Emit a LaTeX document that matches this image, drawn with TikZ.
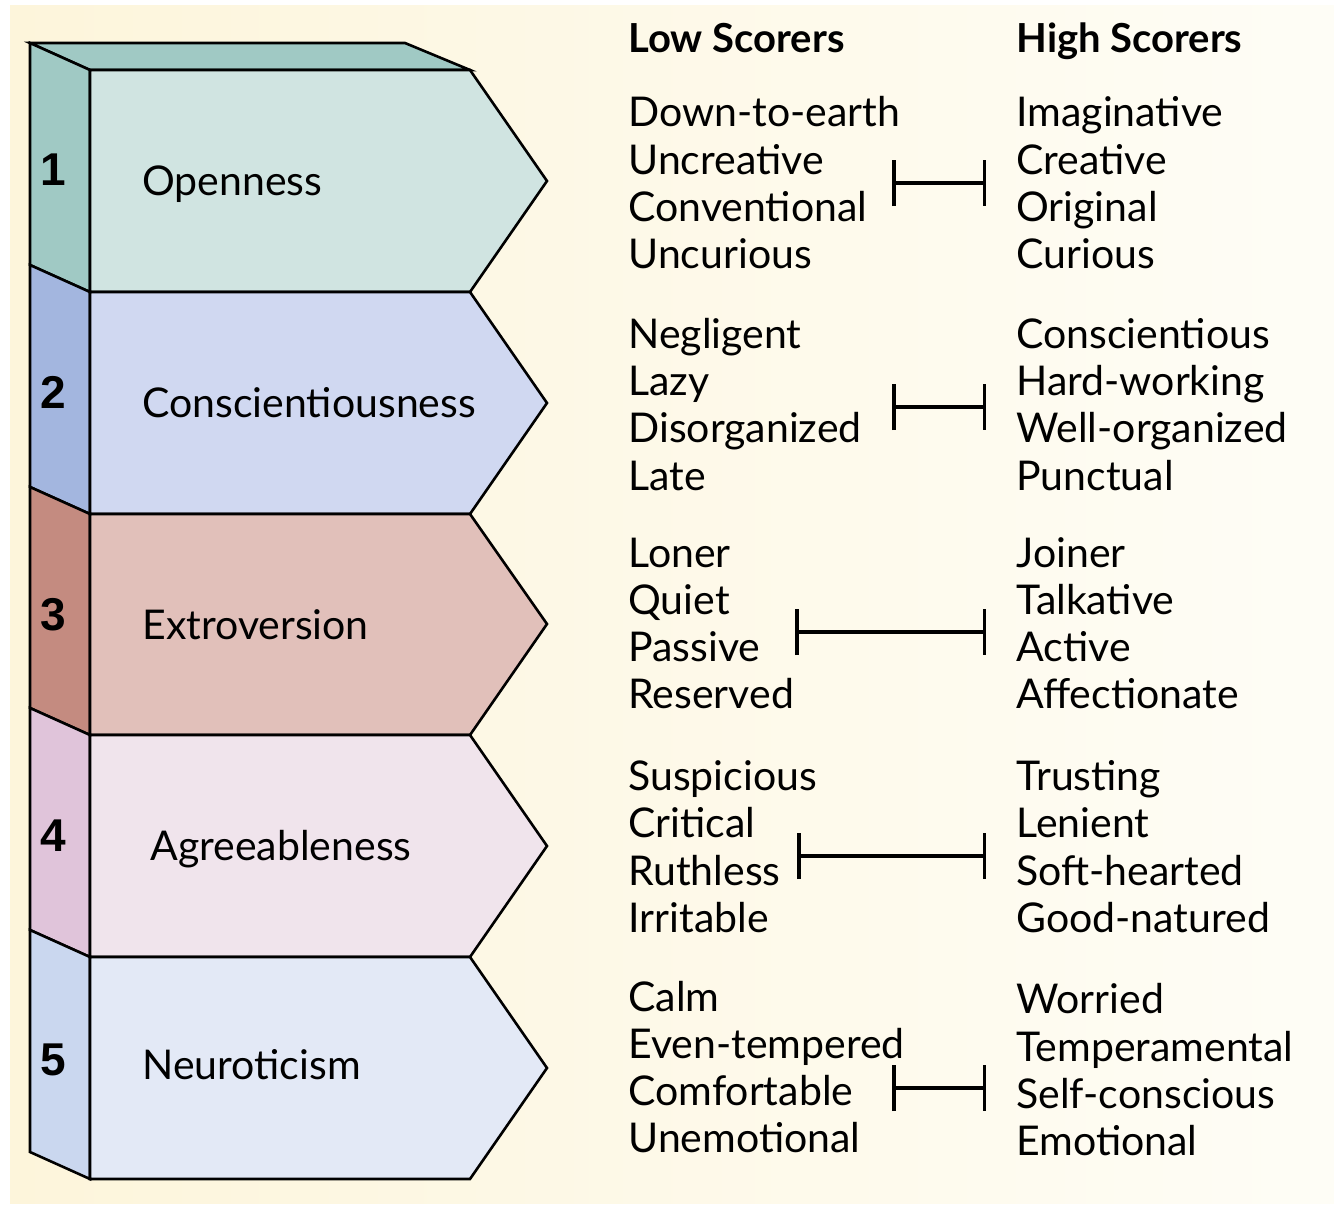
\documentclass[tikz,border=0pt]{standalone}
\usepackage{fontspec}
\setmainfont{Lato}
\newfontfamily\numfont{Liberation Sans}
\usepackage{xcolor}
\usetikzlibrary{arrows.meta}

\definecolor{bgleft}{HTML}{FDF5DB}
\definecolor{bgright}{HTML}{FEFDF6}
\definecolor{sideA}{HTML}{A0C9C4}
\definecolor{frontA}{HTML}{D0E4E1}
\definecolor{sideB}{HTML}{A3B6DF}
\definecolor{frontB}{HTML}{D0D8F1}
\definecolor{sideC}{HTML}{C48B80}
\definecolor{frontC}{HTML}{E1C0BA}
\definecolor{sideD}{HTML}{E0C4DA}
\definecolor{frontD}{HTML}{F0E4EC}
\definecolor{sideE}{HTML}{CAD7EF}
\definecolor{frontE}{HTML}{E3E9F6}

\begin{document}
\begin{tikzpicture}[
    x=0.5pt, y=-0.5pt,
    face/.style={draw=black, line width=1.3pt, line join=miter},
    numlbl/.style={font=\numfont\bfseries\fontsize{23}{26}\selectfont, inner sep=0pt},
    traitlbl/.style={font=\fontsize{20.5}{24}\selectfont, anchor=base west, inner sep=0pt},
    wordlbl/.style={font=\fontsize{20.5}{24}\selectfont, anchor=base west, inner sep=0pt},
    headlbl/.style={font=\bfseries\fontsize{20}{24}\selectfont, anchor=base west, inner sep=0pt},
    scorebar/.style={{Bar[width=23pt]}-{Bar[width=23pt]}, line width=1.75pt},
]
\useasboundingbox (0,0) rectangle (1334,1210);

% Background
\fill[left color=bgleft, right color=bgright] (10,5) rectangle (1334,1203);

% Top face
\filldraw[face, fill=sideA] (30,43) -- (405,43) -- (470,70) -- (90,70) -- cycle;

% Side faces
\filldraw[face, fill=sideA] (30,43) -- (90,70) -- (90,292) -- (30,265) -- cycle;
\filldraw[face, fill=sideB] (30,265) -- (90,292) -- (90,514) -- (30,487) -- cycle;
\filldraw[face, fill=sideC] (30,487) -- (90,514) -- (90,735) -- (30,708) -- cycle;
\filldraw[face, fill=sideD] (30,708) -- (90,735) -- (90,957) -- (30,930) -- cycle;
\filldraw[face, fill=sideE] (30,930) -- (90,957) -- (90,1179) -- (30,1152) -- cycle;

% Front faces (arrows)
\filldraw[face, fill=frontA] (90,70) -- (470,70) -- (547,181) -- (470,292) -- (90,292) -- cycle;
\filldraw[face, fill=frontB] (90,292) -- (470,292) -- (547,403) -- (470,514) -- (90,514) -- cycle;
\filldraw[face, fill=frontC] (90,514) -- (470,514) -- (547,624) -- (470,735) -- (90,735) -- cycle;
\filldraw[face, fill=frontD] (90,735) -- (470,735) -- (547,846) -- (470,957) -- (90,957) -- cycle;
\filldraw[face, fill=frontE] (90,957) -- (470,957) -- (547,1068) -- (470,1179) -- (90,1179) -- cycle;

% Numbers
\node[numlbl] (n1) at (53,170) {1};
\node[numlbl] (n2) at (53,392) {2};
\node[numlbl] (n3) at (53,615) {3};
\node[numlbl] (n4) at (53,836) {4};
\node[numlbl] (n5) at (53,1060) {5};

% Trait names
\node[traitlbl] (open) at (142,195) {Openness};
\node[traitlbl] (consc) at (142,417) {Conscientiousness};
\node[traitlbl] (extro) at (142,639) {Extroversion};
\node[traitlbl] (agree) at (150,860) {Agreeableness};
\node[traitlbl] (neuro) at (142,1079) {Neuroticism};

% Column heads
\node[headlbl] (lowhead) at (628,52) {Low Scorers};
\node[headlbl] (highhead) at (1016,52) {High Scorers};

% Openness
\node[wordlbl] (low1a) at (628,126) {Down-to-earth};
\node[wordlbl] (low1b) at (628,174) {Uncreative};
\node[wordlbl] (low1c) at (628,221) {Conventional};
\node[wordlbl] (low1d) at (628,268) {Uncurious};
\node[wordlbl] (high1a) at (1016,126) {Imaginative};
\node[wordlbl] (high1b) at (1016,174) {Creative};
\node[wordlbl] (high1c) at (1016,221) {Original};
\node[wordlbl] (high1d) at (1016,268) {Curious};

% Conscientiousness
\node[wordlbl] (low2a) at (628,348) {Negligent};
\node[wordlbl] (low2b) at (628,395) {Lazy};
\node[wordlbl] (low2c) at (628,442) {Disorganized};
\node[wordlbl] (low2d) at (628,490) {Late};
\node[wordlbl] (high2a) at (1016,348) {Conscientious};
\node[wordlbl] (high2b) at (1016,395) {Hard-working};
\node[wordlbl] (high2c) at (1016,442) {Well-organized};
\node[wordlbl] (high2d) at (1016,490) {Punctual};

% Extroversion
\node[wordlbl] (low3a) at (628,567) {Loner};
\node[wordlbl] (low3b) at (628,614) {Quiet};
\node[wordlbl] (low3c) at (628,661) {Passive};
\node[wordlbl] (low3d) at (628,708) {Reserved};
\node[wordlbl] (high3a) at (1016,567) {Joiner};
\node[wordlbl] (high3b) at (1016,614) {Talkative};
\node[wordlbl] (high3c) at (1016,661) {Active};
\node[wordlbl] (high3d) at (1016,708) {Affectionate};

% Agreeableness
\node[wordlbl] (low4a) at (628,790) {Suspicious};
\node[wordlbl] (low4b) at (628,837) {Critical};
\node[wordlbl] (low4c) at (628,885) {Ruthless};
\node[wordlbl] (low4d) at (628,932) {Irritable};
\node[wordlbl] (high4a) at (1016,790) {Trusting};
\node[wordlbl] (high4b) at (1016,837) {Lenient};
\node[wordlbl] (high4c) at (1016,885) {Soft-hearted};
\node[wordlbl] (high4d) at (1016,932) {Good-natured};

% Neuroticism
\node[wordlbl] (low5a) at (628,1011) {Calm};
\node[wordlbl] (low5b) at (628,1058) {Even-tempered};
\node[wordlbl] (low5c) at (628,1105) {Comfortable};
\node[wordlbl] (low5d) at (628,1152) {Unemotional};
\node[wordlbl] (high5a) at (1016,1013) {Worried};
\node[wordlbl] (high5b) at (1016,1061) {Temperamental};
\node[wordlbl] (high5c) at (1016,1108) {Self-conscious};
\node[wordlbl] (high5d) at (1016,1155) {Emotional};

% Range bars
\coordinate (lo1) at (892,183);  \coordinate (hi1) at (986,183);
\coordinate (lo2) at (892,407);  \coordinate (hi2) at (986,407);
\coordinate (lo3) at (795,632);  \coordinate (hi3) at (986,632);
\coordinate (lo4) at (797,856);  \coordinate (hi4) at (986,856);
\coordinate (lo5) at (892,1088); \coordinate (hi5) at (986,1088);
\draw[scorebar] (lo1) -- (hi1);
\draw[scorebar] (lo2) -- (hi2);
\draw[scorebar] (lo3) -- (hi3);
\draw[scorebar] (lo4) -- (hi4);
\draw[scorebar] (lo5) -- (hi5);

\end{tikzpicture}
\end{document}
